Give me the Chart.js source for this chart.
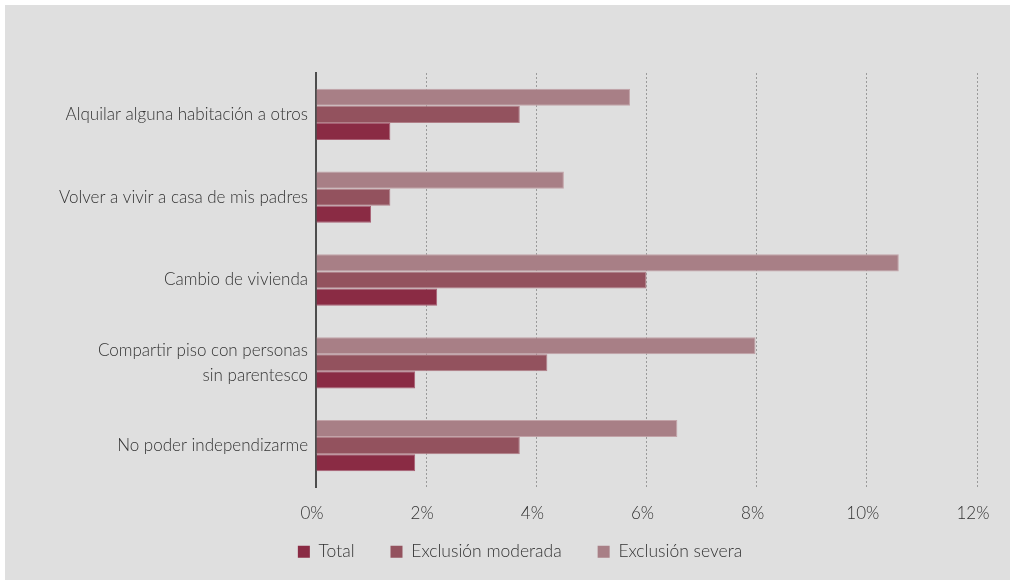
<!DOCTYPE html>
<html>
<head>
<meta charset="utf-8">
<script src="https://cdn.jsdelivr.net/npm/chart.js@4/dist/chart.umd.min.js"></script>
<style>
  body { margin: 0; background: #ffffff; }
  #caja { position: absolute; left: 5px; top: 5px; width: 1005px; height: 575px; background: #dfdfdf; }
</style>
</head>
<body>
<div id="caja"><canvas id="myChart" width="1005" height="575"></canvas></div>
<script>
const categorias = [
  "Alquilar alguna habitación a otros",
  "Volver a vivir a casa de mis padres",
  "Cambio de vivienda",
  ["Compartir piso con personas", "sin parentesco"],
  "No poder independizarme"
];
const total = [1.35, 1.0, 2.2, 1.8, 1.8];
const moderada = [3.7, 1.35, 6.0, 4.2, 3.7];
const severa = [5.7, 4.5, 10.58, 7.98, 6.56];
const ticksX = [0, 2, 4, 6, 8, 10, 12];

const fuente = "Lato, 'Open Sans', sans-serif";
Chart.defaults.font.family = fuente;
Chart.defaults.font.weight = 300;
Chart.defaults.color = "#333333";

// mueve la leyenda para dejarla donde está en el original
const moverLeyenda = {
  id: "moverLeyenda",
  afterLayout(chart) {
    const ley = chart.legend;
    ley.left += 29;
    ley.right += 29;
    ley.top -= 22;
    ley.bottom = chart.height;
    ley.height = ley.bottom - ley.top;
  }
};

const ctx = document.getElementById("myChart");
new Chart(ctx, {
  type: "bar",
  data: {
    labels: categorias,
    datasets: [
      {
        label: "Exclusión severa",
        data: severa,
        backgroundColor: "#a87f86",
        borderColor: "#c2a3a8",
        borderWidth: 1
      },
      {
        label: "Exclusión moderada",
        data: moderada,
        backgroundColor: "#93525e",
        borderColor: "#b07f88",
        borderWidth: 1
      },
      {
        label: "Total",
        data: total,
        backgroundColor: "#8a2b44",
        borderColor: "#a86074",
        borderWidth: 1
      }
    ]
  },
  plugins: [moverLeyenda],
  options: {
    indexAxis: "y",
    responsive: false,
    animation: false,
    layout: { padding: { left: 0, top: 68, right: 33, bottom: 11 } },
    datasets: { bar: { barPercentage: 1, categoryPercentage: 0.62 } },
    plugins: {
      tooltip: { enabled: false },
      legend: {
        position: "bottom",
        reverse: true,
        maxHeight: 40,
        labels: {
          boxWidth: 12,
          boxHeight: 12,
          padding: 36,
          font: { size: 17.5, weight: 300 },
          generateLabels: (chart) => {
            const base = Chart.defaults.plugins.legend.labels.generateLabels(chart);
            return base.map((item) => {
              item.strokeStyle = item.fillStyle;
              item.lineWidth = 0;
              return item;
            });
          }
        }
      }
    },
    scales: {
      x: {
        min: 0,
        max: 12,
        afterBuildTicks: (scale) => {
          scale.ticks = ticksX.map((v) => ({ value: v }));
        },
        ticks: {
          padding: 16,
          labelOffset: -4,
          font: { size: 17, weight: 300 },
          callback: (v) => v + "%"
        },
        grid: {
          color: (c) => (c.tick && c.tick.value === 0 ? "rgba(0,0,0,0)" : "#9a9a9a"),
          lineWidth: 1,
          drawTicks: false
        },
        border: { display: false, dash: [2, 2] },
        afterFit: (scale) => { scale.height = 42; }
      },
      y: {
        ticks: {
          padding: 8,
          font: { size: 17, weight: 300, lineHeight: 1.45 }
        },
        grid: { display: false, drawTicks: false },
        border: { display: true, color: "#4d4d4d", width: 2 },
        afterFit: (scale) => { scale.width = 311; }
      }
    }
  }
});
</script>
</body>
</html>
